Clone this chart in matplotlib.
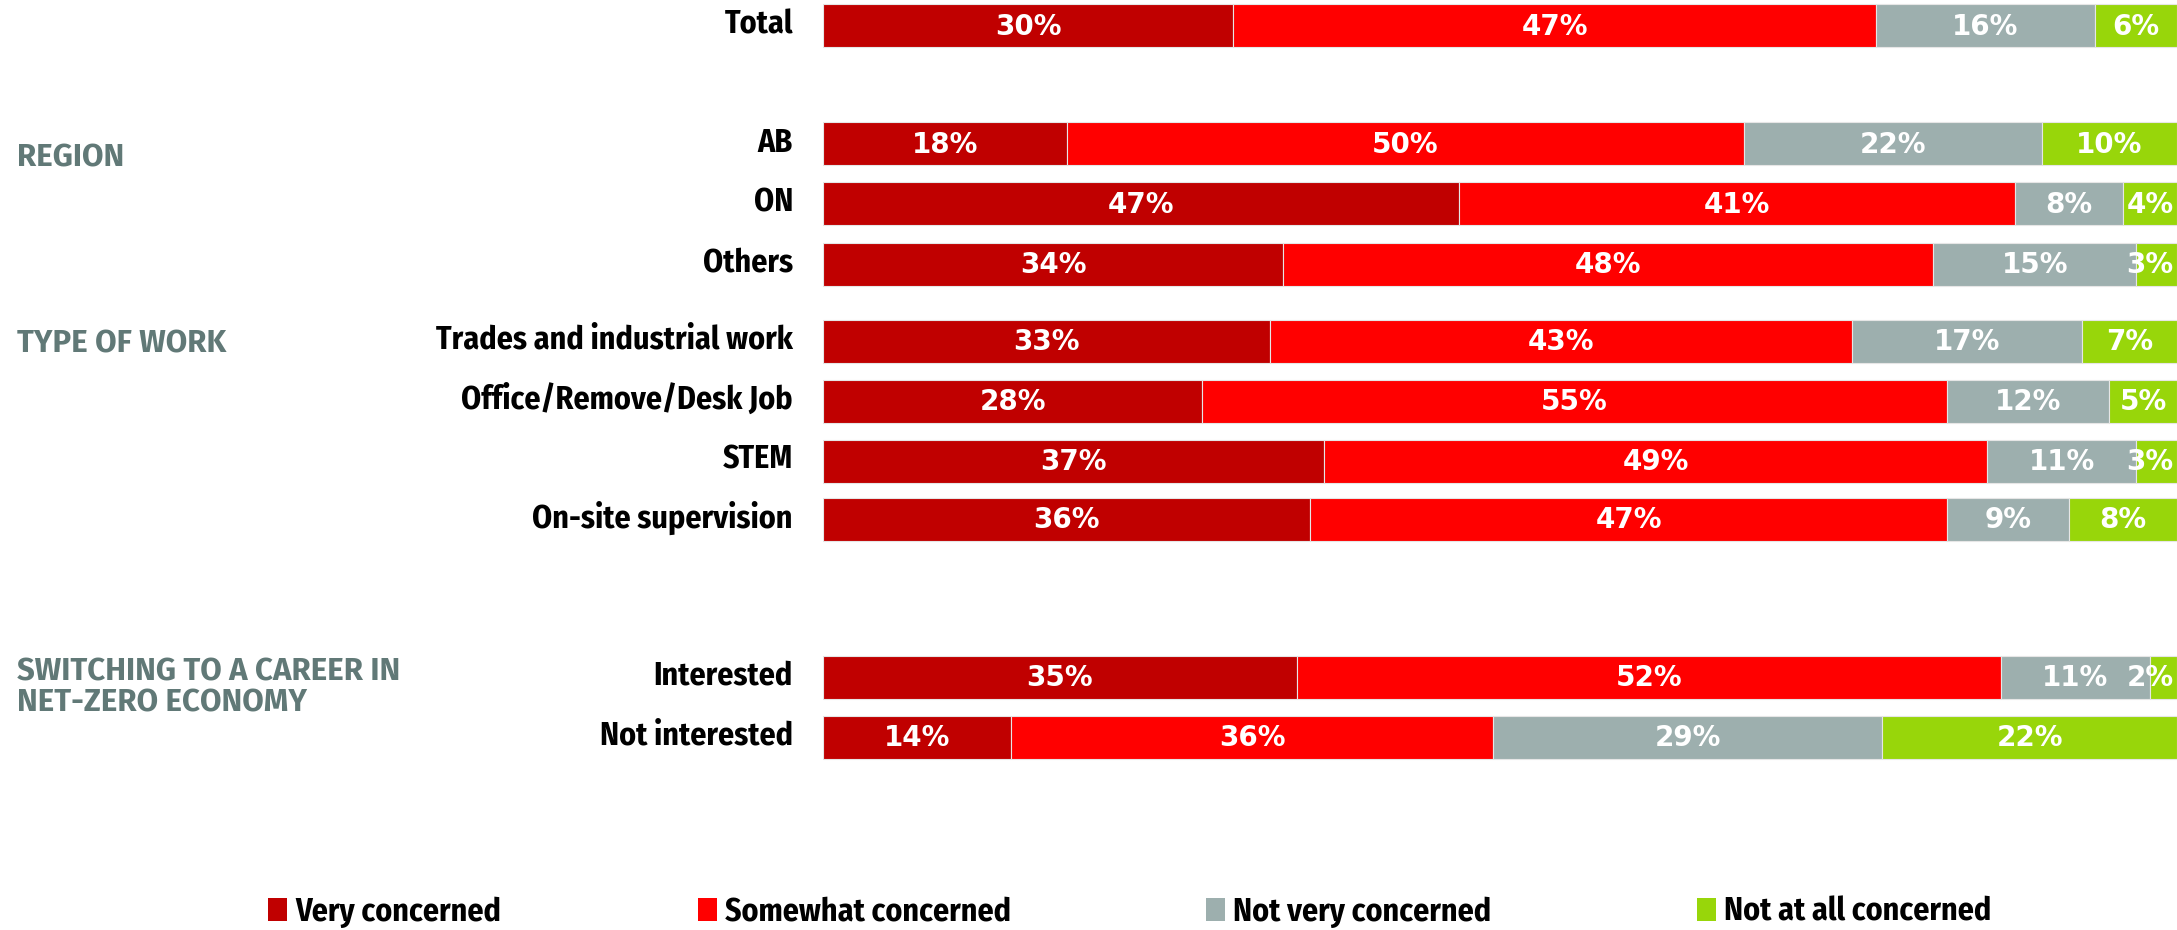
import matplotlib
matplotlib.use("Agg")
import matplotlib.pyplot as plt
from matplotlib.patches import Patch
from matplotlib import font_manager
import numpy as np

# data
categories = ["Total", "AB", "ON", "Others",
              "Trades and industrial work", "Office/Remove/Desk Job", "STEM",
              "On-site supervision", "Interested", "Not interested"]
very_concerned = [30, 18, 47, 34, 33, 28, 37, 36, 35, 14]
somewhat_concerned = [47, 50, 41, 48, 43, 55, 49, 47, 52, 36]
not_very_concerned = [16, 22, 8, 15, 17, 12, 11, 9, 11, 29]
not_at_all_concerned = [6, 10, 4, 3, 7, 5, 3, 8, 2, 22]
series_names = ["Very concerned", "Somewhat concerned", "Not very concerned", "Not at all concerned"]
group_titles = ["REGION", "TYPE OF WORK", "SWITCHING TO A CAREER IN\nNET-ZERO ECONOMY"]

# layout (pixel rows of bar centres)
row_y = [26, 144, 204, 264, 341, 401, 461, 519, 677, 737]
group_y = [158, 344, 688]
legend_x = [268, 698, 1206, 1697]
colors = ["#C00000", "#FF0000", "#9DAFAE", "#98D60A"]

installed = {f.name for f in font_manager.fontManager.ttflist}

def pick(*names):
    for n in names:
        if n in installed:
            return n
    return "DejaVu Sans"

label_font = pick("Fira Sans Condensed", "Fira Sans Extra Condensed", "Roboto Condensed")
title_font = pick("Fira Sans", "Fira Sans Condensed", "Open Sans")

W, H = 2177, 930
fig = plt.figure(figsize=(W / 100, H / 100), dpi=100)
ax = fig.add_axes([823 / W, 0, 1 - 823 / W, 1])
ax.set_ylim(H, 0)
ax.set_xlim(0, 100)
ax.axis("off")

data = np.array([very_concerned, somewhat_concerned, not_very_concerned, not_at_all_concerned], dtype=float)
shares = data / data.sum(axis=0) * 100
left = np.zeros(len(categories))
for i in range(4):
    ax.barh(row_y, shares[i], left=left, height=43, color=colors[i],
            edgecolor="#E6E6E6", linewidth=0.8)
    for j, v in enumerate(data[i]):
        cx = min(left[j] + shares[i][j] / 2, 98.0)
        ax.text(cx, row_y[j] + 1, f"{int(v)}%", ha="center", va="center",
                color="white", fontsize=20, fontweight="bold", family="DejaVu Sans")
    left += shares[i]

# category labels
for j, name in enumerate(categories):
    fig.text(793 / W, 1 - (row_y[j] - 1) / H, name, ha="right", va="center",
             fontsize=23, fontweight="bold", color="black", family=label_font)

# group titles
for t, y in zip(group_titles, group_y):
    fig.text(17 / W, 1 - y / H, t, ha="left", va="center",
             fontsize=22.5, fontweight="bold", color="#617977", family=title_font,
             linespacing=1.05)

# legend, one entry per position
for c, name, x in zip(colors, series_names, legend_x):
    fig.legend([Patch(facecolor=c, edgecolor="none")], [name], loc="center left",
               bbox_to_anchor=(x / W, 1 - 912 / H), frameon=False,
               borderpad=0, borderaxespad=0, handlelength=0.6, handleheight=0.75,
               handletextpad=0.25,
               prop={"family": label_font, "weight": "bold", "size": 23})

plt.savefig("out.png", dpi=100, facecolor="white")
plt.close()
